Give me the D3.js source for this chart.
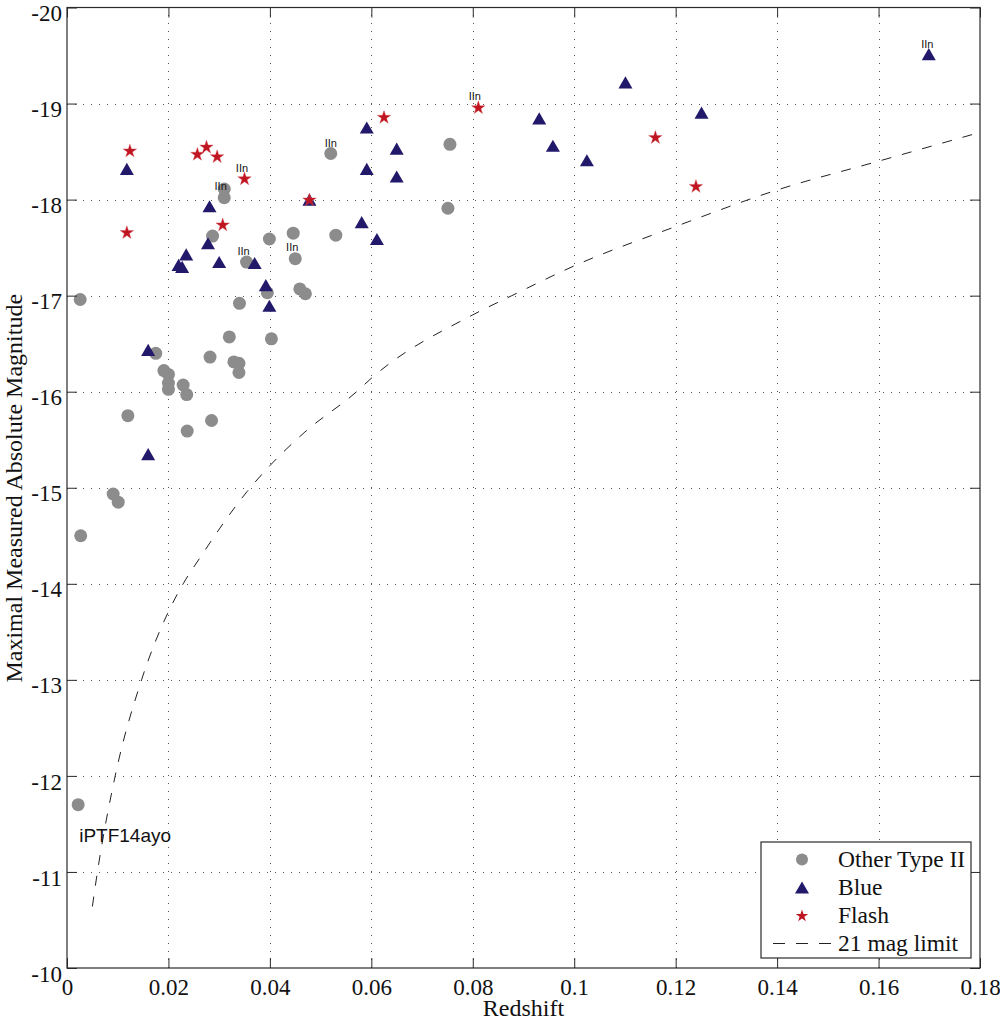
<!DOCTYPE html>
<html>
<head>
<meta charset="utf-8">
<script src="https://cdn.jsdelivr.net/npm/d3@7"></script>
<style>
body { margin: 0; background: #fff; }
</style>
</head>
<body>
<svg id="chart"></svg>
<script>
// [redshift, peak absolute magnitude]
var otherType2 = [
    [0.0520, -18.48], [0.0310, -18.11], [0.0310, -18.02], [0.0287, -17.62],
    [0.0399, -17.59], [0.0446, -17.65], [0.0530, -17.63], [0.0354, -17.35],
    [0.0450, -17.385], [0.0395, -17.03], [0.0459, -17.07], [0.0470, -17.02],
    [0.0026, -16.96], [0.0340, -16.92], [0.0320, -16.57], [0.0403, -16.55],
    [0.0175, -16.40], [0.0191, -16.22], [0.0200, -16.18], [0.0200, -16.09],
    [0.0200, -16.025], [0.0282, -16.36], [0.0329, -16.31], [0.0339, -16.295],
    [0.0339, -16.20], [0.0229, -16.07], [0.0236, -15.97], [0.0120, -15.75],
    [0.0285, -15.70], [0.0237, -15.59], [0.0091, -14.935], [0.0101, -14.85],
    [0.0027, -14.50], [0.0751, -17.91], [0.0755, -18.575], [0.0022, -11.70]
];
var blueSN = [
    [0.0118, -18.32], [0.0281, -17.93], [0.0278, -17.545], [0.0235, -17.43],
    [0.0220, -17.32], [0.0227, -17.30], [0.0300, -17.35], [0.0370, -17.34],
    [0.0392, -17.11], [0.0399, -16.895], [0.0478, -18.00], [0.0160, -16.435],
    [0.0160, -15.35], [0.0591, -18.75], [0.0650, -18.53], [0.0591, -18.32],
    [0.0650, -18.24], [0.0581, -17.765], [0.0611, -17.59], [0.1101, -19.22],
    [0.0931, -18.845], [0.0958, -18.56], [0.1025, -18.41], [0.1251, -18.905],
    [0.1699, -19.515]
];
var flashSN = [
    [0.0124, -18.51], [0.0118, -17.66], [0.0257, -18.475], [0.0275, -18.55],
    [0.0296, -18.45], [0.0350, -18.22], [0.0307, -17.74], [0.0478, -18.00],
    [0.0625, -18.86], [0.0811, -18.96], [0.1160, -18.65], [0.1240, -18.14]
];
// 21 mag limit
var magLimit = [
    [0.0050, -10.64], [0.0060, -11.0], [0.0095, -12.0], [0.0147, -13.0],
    [0.0200, -13.71], [0.0229, -14.0], [0.0262, -14.27], [0.0355, -14.96],
    [0.0400, -15.23], [0.0469, -15.58], [0.0571, -16.0], [0.0600, -16.14],
    [0.0800, -16.80], [0.0877, -17.0], [0.1000, -17.31], [0.1200, -17.72],
    [0.1400, -18.10], [0.1600, -18.40], [0.1800, -18.70]
];
var iinLabels = [
    [0.0520, -18.59], [0.0303, -18.14], [0.0345, -18.33], [0.0348, -17.47],
    [0.0444, -17.51], [0.0804, -19.08], [0.1696, -19.62]
];
var namedLabels = [{ text: "iPTF14ayo", pos: [0.0024, -11.315] }];
var xTicks = [0, 0.02, 0.04, 0.06, 0.08, 0.1, 0.12, 0.14, 0.16, 0.18];
var yTicks = [-10, -11, -12, -13, -14, -15, -16, -17, -18, -19, -20];
var legendNames = ["Other Type II", "Blue", "Flash", "21 mag limit"];

var scatterChart = {
    params: {
        width: 1000,
        height: 1020,
        left: 67,
        right: 980,
        top: 7.5,
        bottom: 968,
        serif: "'Liberation Serif', 'Times New Roman', serif",
        sans: "'Liberation Sans', Arial, sans-serif",
        axisColor: "#2a2a2a",
        gridColor: "#555",
        tickFontSize: 23,
        titleFontSize: 24,
        legendFontSize: 23.5,
        circleColor: "#8c8c8c",
        triangleColor: "#22196b",
        starColor: "#bf1520",
        circleR: 6.5,
        triangleSize: 85,
        starSize: 56,
        legend: { x: 761, y: 842, w: 210, h: 116, row0: 17.5, rowH: 28, markX: 41, textX: 77 }
    },
    x: null,
    y: null,
    svg: null,
    setup: function(svgId) {
        var p = this.params;
        this.svg = d3.select("#" + svgId)
            .attr("width", p.width)
            .attr("height", p.height);
        this.x = d3.scaleLinear().domain([0, 0.18]).range([p.left, p.right]);
        this.y = d3.scaleLinear().domain([-10, -20]).range([p.bottom, p.top]);
    },
    drawGrid: function() {
        var p = this.params, me = this;
        var g = this.svg.append("g").attr("class", "grid")
            .attr("stroke", p.gridColor)
            .attr("stroke-width", 1)
            .attr("stroke-dasharray", "1,7");
        g.selectAll("line.v").data(xTicks.slice(1, -1)).enter().append("line")
            .attr("class", "v")
            .attr("x1", function(d) { return Math.round(me.x(d)) + 0.5; })
            .attr("x2", function(d) { return Math.round(me.x(d)) + 0.5; })
            .attr("y1", p.bottom)
            .attr("y2", p.top);
        g.selectAll("line.h").data(yTicks.slice(1, -1)).enter().append("line")
            .attr("class", "h")
            .attr("y1", function(d) { return Math.round(me.y(d)) + 0.5; })
            .attr("y2", function(d) { return Math.round(me.y(d)) + 0.5; })
            .attr("x1", p.left)
            .attr("x2", p.right);
    },
    drawAxes: function() {
        var p = this.params;
        var fmtX = function(d) { return String(+d.toFixed(2)); };
        var fmtY = function(d) { return String(d); };
        var styleAxis = function(sel) {
            sel.attr("font-family", p.serif)
                .attr("font-size", p.tickFontSize)
                .attr("color", p.axisColor);
            sel.select(".domain").remove();
            sel.selectAll("text").attr("fill", "#111");
        };
        this.svg.append("g")
            .attr("transform", "translate(0," + p.bottom + ")")
            .call(d3.axisBottom(this.x).tickValues(xTicks).tickSize(-10).tickPadding(11).tickFormat(fmtX))
            .call(styleAxis);
        this.svg.append("g")
            .attr("transform", "translate(0," + p.top + ")")
            .call(d3.axisTop(this.x).tickValues(xTicks).tickSize(-10).tickFormat(""))
            .call(styleAxis);
        var left = this.svg.append("g")
            .attr("transform", "translate(" + p.left + ",0)")
            .call(d3.axisLeft(this.y).tickValues(yTicks).tickSize(-10).tickPadding(5).tickFormat(fmtY))
            .call(styleAxis);
        left.selectAll("text").attr("dy", "0.57em");
        this.svg.append("g")
            .attr("transform", "translate(" + p.right + ",0)")
            .call(d3.axisRight(this.y).tickValues(yTicks).tickSize(-10).tickFormat(""))
            .call(styleAxis);
        this.svg.append("rect")
            .attr("x", p.left)
            .attr("y", p.top)
            .attr("width", p.right - p.left)
            .attr("height", p.bottom - p.top)
            .attr("fill", "none")
            .attr("stroke", p.axisColor)
            .attr("stroke-width", 1.2);

        this.svg.append("text")
            .attr("x", (p.left + p.right) / 2)
            .attr("y", 1016)
            .attr("text-anchor", "middle")
            .attr("font-family", p.serif)
            .attr("font-size", p.titleFontSize)
            .attr("fill", "#111")
            .text("Redshift");
        this.svg.append("text")
            .attr("transform", "translate(21.5," + ((p.top + p.bottom) / 2 + 0.5) + ") rotate(-90)")
            .attr("text-anchor", "middle")
            .attr("font-family", p.serif)
            .attr("font-size", p.titleFontSize)
            .attr("fill", "#111")
            .text("Maximal Measured Absolute Magnitude");
    },
    limitLine: function(sel, dash) {
        return sel.attr("fill", "none")
            .attr("stroke", "#222")
            .attr("stroke-width", 1)
            .attr("stroke-dasharray", dash);
    },
    drawData: function() {
        var p = this.params, me = this;
        var line = d3.line()
            .x(function(d) { return me.x(d[0]); })
            .y(function(d) { return me.y(d[1]); })
            .curve(d3.curveMonotoneX);
        this.svg.append("path")
            .datum(magLimit)
            .attr("d", line)
            .call(this.limitLine, "10,11");

        this.svg.append("g").selectAll("circle").data(otherType2).enter().append("circle")
            .attr("cx", function(d) { return me.x(d[0]); })
            .attr("cy", function(d) { return me.y(d[1]); })
            .attr("r", p.circleR)
            .attr("fill", p.circleColor);

        var tri = d3.symbol().type(d3.symbolTriangle).size(p.triangleSize);
        this.svg.append("g").selectAll("path").data(blueSN).enter().append("path")
            .attr("d", tri)
            .attr("transform", function(d) {
                return "translate(" + me.x(d[0]) + "," + (me.y(d[1]) + 2) + ")";
            })
            .attr("fill", p.triangleColor);

        var star = d3.symbol().type(d3.symbolStar).size(p.starSize);
        this.svg.append("g").selectAll("path").data(flashSN).enter().append("path")
            .attr("d", star)
            .attr("transform", function(d) {
                return "translate(" + me.x(d[0]) + "," + (me.y(d[1]) + 0.5) + ")";
            })
            .attr("fill", p.starColor)
            .attr("stroke", "#d9505a")
            .attr("stroke-width", 0.4);
    },
    drawLabels: function() {
        var p = this.params, me = this;
        this.svg.append("g").selectAll("text").data(iinLabels).enter().append("text")
            .attr("x", function(d) { return me.x(d[0]); })
            .attr("y", function(d) { return me.y(d[1]); })
            .attr("text-anchor", "middle")
            .attr("dominant-baseline", "central")
            .attr("font-family", p.sans)
            .attr("font-size", 11)
            .attr("fill", "#111")
            .text("IIn");
        this.svg.append("g").selectAll("text").data(namedLabels).enter().append("text")
            .attr("x", function(d) { return me.x(d.pos[0]); })
            .attr("y", function(d) { return me.y(d.pos[1]); })
            .attr("font-family", p.sans)
            .attr("font-size", 19)
            .attr("fill", "#111")
            .text(function(d) { return d.text; });
    },
    drawLegend: function() {
        var p = this.params, L = p.legend;
        var g = this.svg.append("g")
            .attr("transform", "translate(" + L.x + "," + L.y + ")");
        g.append("rect")
            .attr("width", L.w)
            .attr("height", L.h)
            .attr("fill", "#fff")
            .attr("stroke", p.axisColor)
            .attr("stroke-width", 1.2);
        var rows = g.selectAll("g.row").data(legendNames).enter().append("g")
            .attr("class", "row")
            .attr("transform", function(d, i) { return "translate(0," + (L.row0 + i * L.rowH) + ")"; });
        rows.append("text")
            .attr("x", L.textX)
            .attr("dy", "0.33em")
            .attr("font-family", p.serif)
            .attr("font-size", p.legendFontSize)
            .attr("fill", "#111")
            .text(function(d) { return d; });

        g.append("circle")
            .attr("cx", L.markX)
            .attr("cy", L.row0)
            .attr("r", 6)
            .attr("fill", p.circleColor);
        g.append("path")
            .attr("d", d3.symbol().type(d3.symbolTriangle).size(p.triangleSize)())
            .attr("transform", "translate(" + L.markX + "," + (L.row0 + L.rowH + 2) + ")")
            .attr("fill", p.triangleColor);
        g.append("path")
            .attr("d", d3.symbol().type(d3.symbolStar).size(48)())
            .attr("transform", "translate(" + L.markX + "," + (L.row0 + 2 * L.rowH + 0.5) + ")")
            .attr("fill", p.starColor);
        g.append("line")
            .attr("x1", 12)
            .attr("x2", 70)
            .attr("y1", L.row0 + 3 * L.rowH)
            .attr("y2", L.row0 + 3 * L.rowH)
            .call(this.limitLine, "12,11");
    },
    run: function(svgId) {
        this.setup(svgId);
        this.drawGrid();
        this.drawData();
        this.drawLabels();
        this.drawAxes();
        this.drawLegend();
    }
};

scatterChart.run("chart");
</script>
</body>
</html>
